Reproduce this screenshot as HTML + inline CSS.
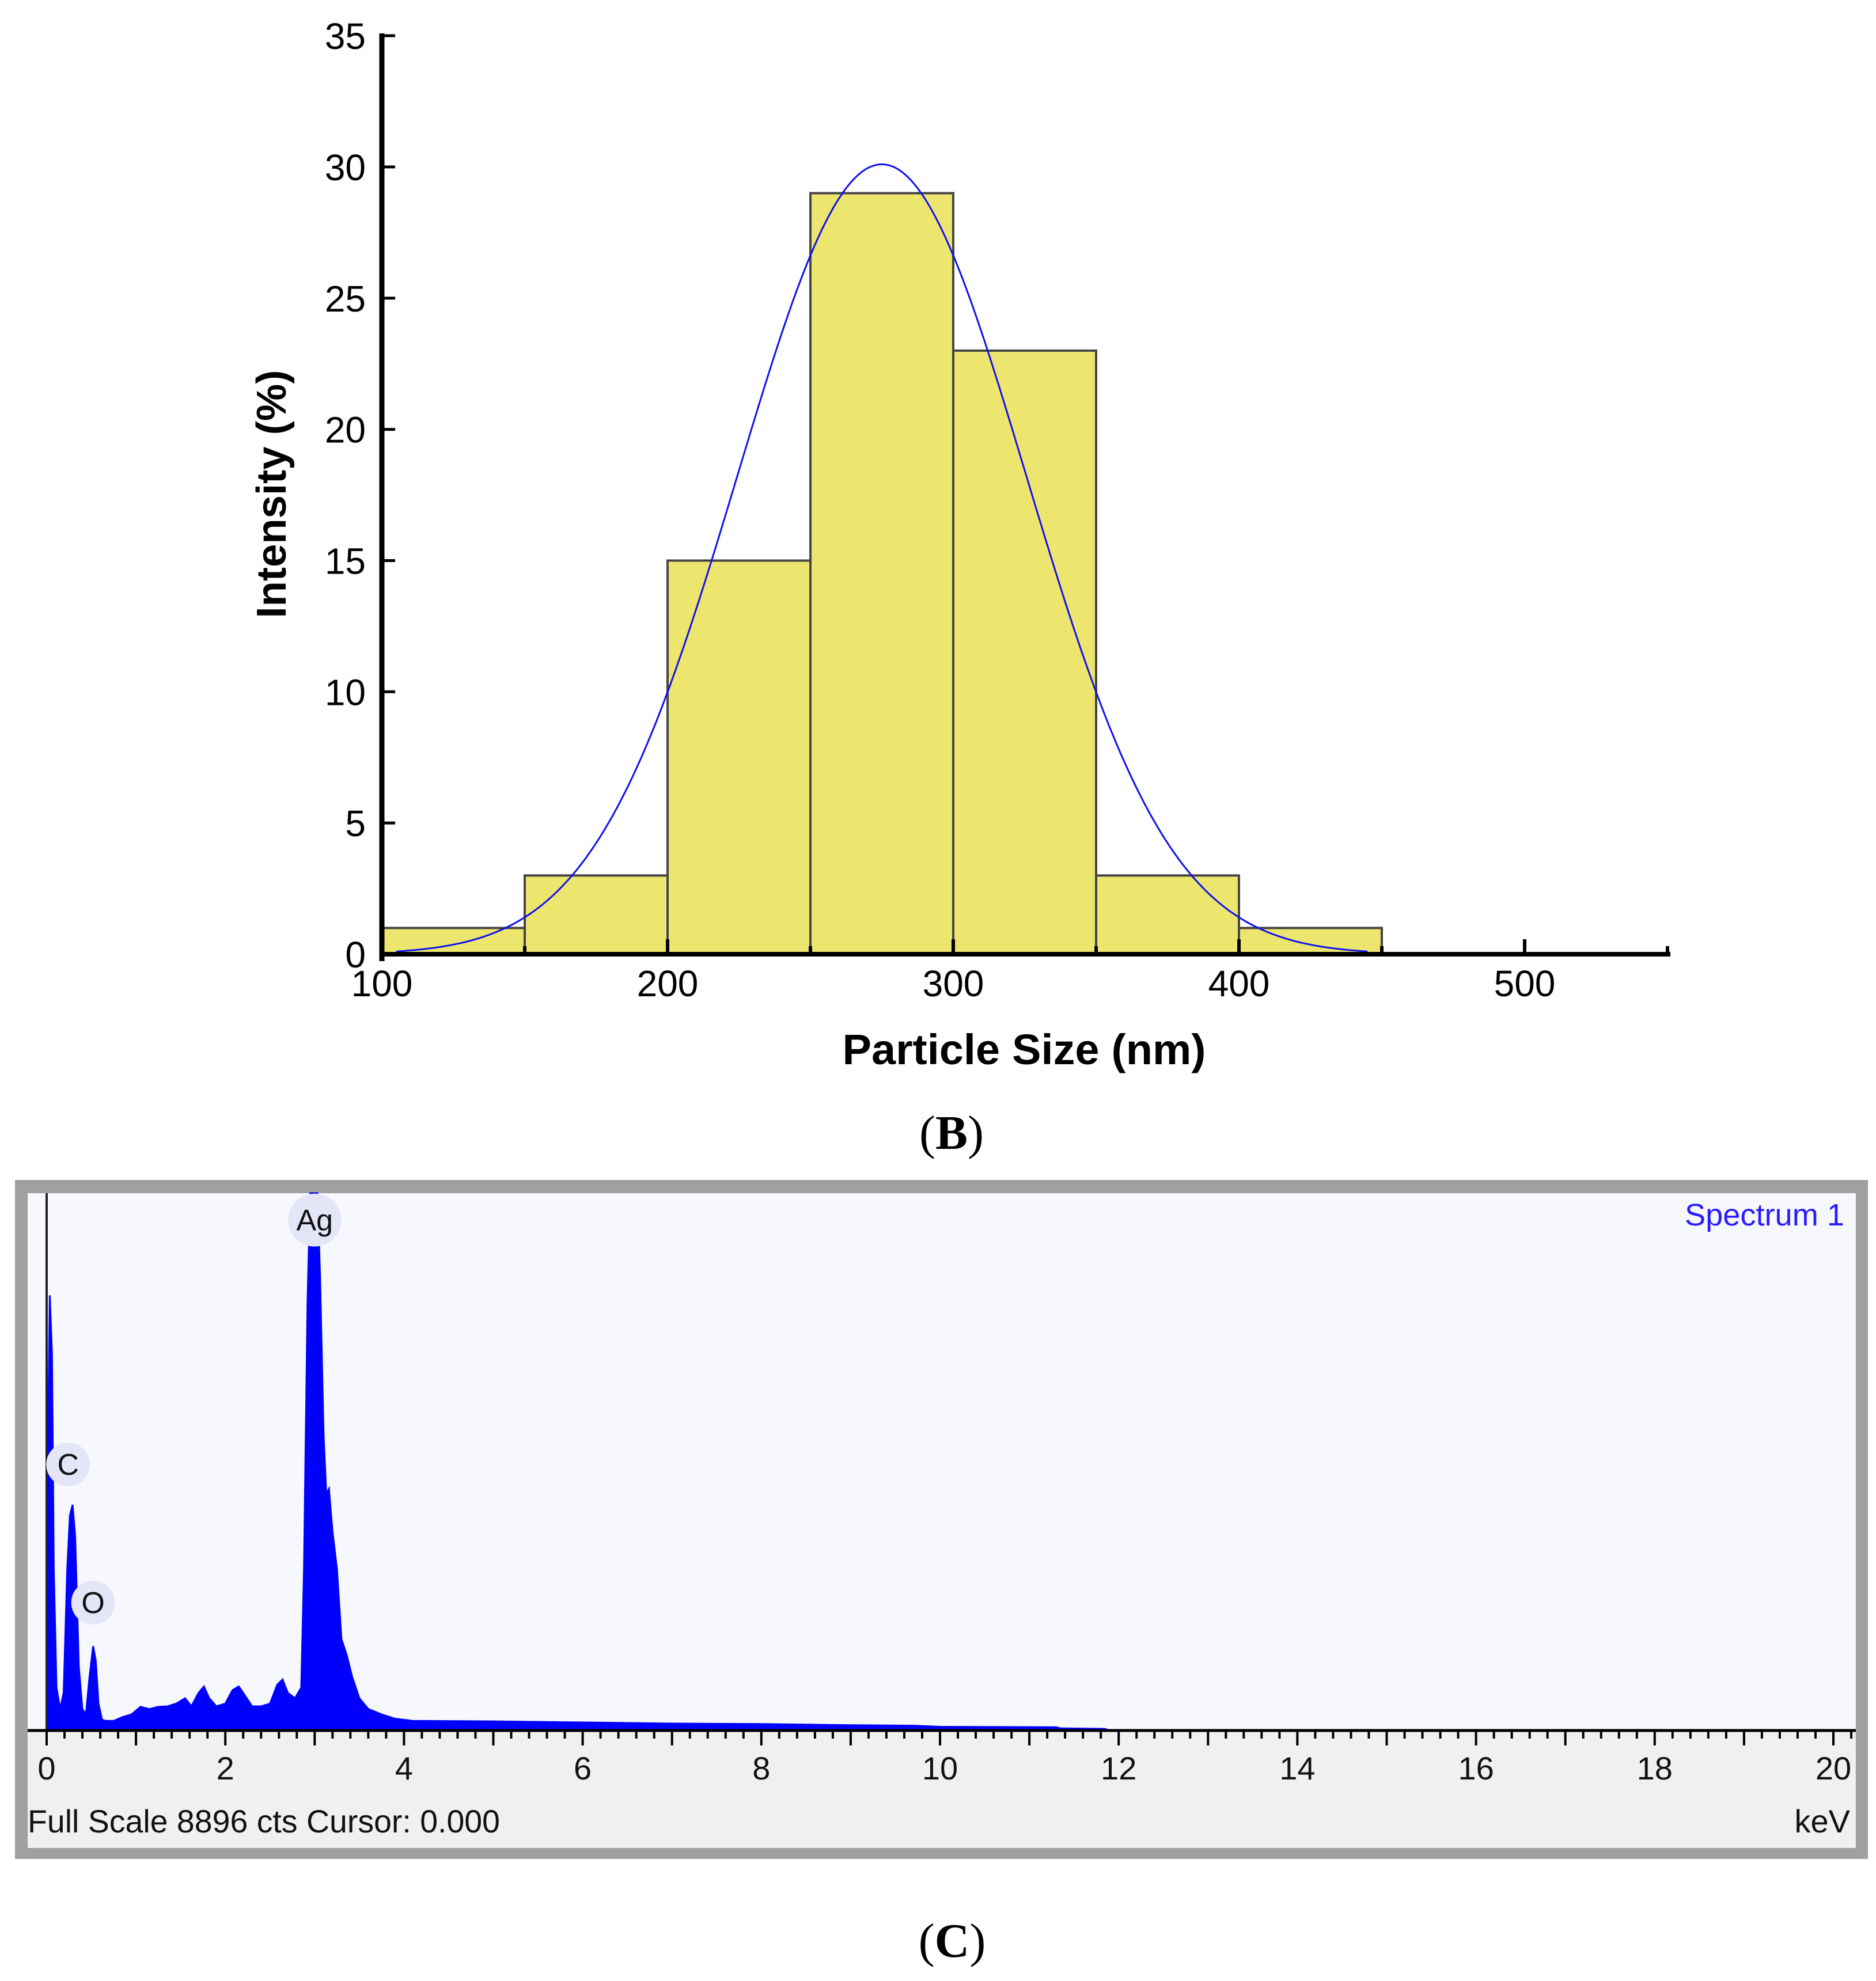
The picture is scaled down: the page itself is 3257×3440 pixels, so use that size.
<!DOCTYPE html>
<html><head><meta charset="utf-8">
<style>
html,body{margin:0;padding:0;background:#fff;}
svg{display:block;}
text{font-family:"Liberation Sans",sans-serif;}
</style></head>
<body>
<svg id="fig" width="3257" height="3440" viewBox="0 0 3257 3440" xmlns="http://www.w3.org/2000/svg">
  <rect x="0" y="0" width="3257" height="3440" fill="#ffffff"/>
  <g id="histB"></g>
  <text x="0" y="0" transform="translate(496,858) rotate(-90)" text-anchor="middle" font-size="72" font-weight="bold" textLength="431" lengthAdjust="spacingAndGlyphs">Intensity (%)</text>
  <text x="1778" y="1848" text-anchor="middle" font-size="74" font-weight="bold" textLength="631" lengthAdjust="spacingAndGlyphs">Particle Size (nm)</text>
  <text x="1652" y="1995" text-anchor="middle" font-size="84" style="font-family:'Liberation Serif',serif">(<tspan font-weight="bold">B</tspan>)</text>

  <g>
    <rect x="26" y="2049" width="3217" height="1179" fill="#a0a0a0"/>
    <rect x="48" y="2072" width="3174" height="933" fill="#f7f8fe"/>
    <rect x="48" y="3005" width="3174" height="204" fill="#f0f0f0"/>
    <g id="edsC"></g>
    <text x="3202" y="2128" text-anchor="end" font-size="54" fill="#2a1cff" textLength="277" lengthAdjust="spacingAndGlyphs">Spectrum 1</text>
    <text x="48" y="3182" font-size="56" fill="#111" textLength="820" lengthAdjust="spacingAndGlyphs">Full Scale 8896 cts Cursor: 0.000</text>
    <text x="3212" y="3182" text-anchor="end" font-size="56" fill="#111">keV</text>
  </g>
  <text x="1653" y="3398" text-anchor="middle" font-size="84" style="font-family:'Liberation Serif',serif">(<tspan font-weight="bold">C</tspan>)</text>
</svg>
<script>
// ---- Panel B data ----
const binStarts = [100,150,200,250,300,350,400];
const binWidth = 50;
const binValues = [1,3,15,29,23,3,1];
const yTicks = [0,5,10,15,20,25,30,35];
const xTicks = [100,200,300,400,500];
const fitMean = [275];
const fitSigma = [50.5];
const fitPeak = [30.1];

// ---- Panel C data ----
const edsEnergy = [0,0.01,0.02,0.035,0.06,0.08,0.11,0.15,0.19,0.23,0.26,0.29,0.32,0.36,0.4,0.44,0.48,0.52,0.55,0.58,0.62,0.66,0.75,0.85,0.95,1.05,1.15,1.25,1.35,1.45,1.55,1.62,1.7,1.76,1.82,1.9,2.0,2.08,2.15,2.22,2.3,2.4,2.5,2.58,2.64,2.7,2.78,2.85,2.88,2.92,2.95,3.03,3.06,3.1,3.13,3.16,3.2,3.25,3.3,3.36,3.42,3.5,3.6,3.75,3.9,4.1,5,6,7,8,9,9.7,10,11.3,11.35,11.85,11.9];
const edsFrac =   [0,0.3,0.6,0.81,0.7,0.3,0.08,0.04,0.07,0.3,0.4,0.42,0.36,0.12,0.04,0.03,0.1,0.157,0.13,0.05,0.02,0.018,0.018,0.025,0.03,0.044,0.04,0.044,0.045,0.05,0.06,0.045,0.07,0.082,0.06,0.045,0.05,0.075,0.082,0.065,0.045,0.045,0.05,0.085,0.095,0.07,0.06,0.08,0.3,0.8,1.0,1.0,0.85,0.55,0.44,0.45,0.37,0.3,0.17,0.14,0.1,0.06,0.04,0.03,0.022,0.018,0.017,0.015,0.013,0.012,0.01,0.009,0.007,0.006,0.004,0.003,0];
const edsTicks = [0,2,4,6,8,10,12,14,16,18,20];
const peakLabels = ["C","O","Ag"];
const peakLabelEnergy = [0.24,0.52,3.0];
const peakLabelFrac = [0.495,0.238,0.95];

const NS = "http://www.w3.org/2000/svg";
function mk(tag, attrs, parent){
  const e = document.createElementNS(NS, tag);
  for (const k in attrs) e.setAttribute(k, attrs[k]);
  parent.appendChild(e);
  return e;
}

// Panel B axes
const bx0 = 663, bxUnit = 4.96, by0 = 1657, byUnit = 45.57;
const xB = v => bx0 + (v - 100) * bxUnit;
const yB = v => by0 - v * byUnit;
const gB = document.getElementById('histB');

binStarts.forEach((s, i) => {
  const r = mk('rect', {x: xB(s), y: yB(binValues[i]), width: binWidth*bxUnit, height: by0 - yB(binValues[i]), fill: '#ede66e', stroke: '#454545', 'stroke-width': 4}, gB);
  
  
});

let d = '';
for (let v = 105; v <= 445; v += 1) {
  const val = fitPeak[0] * Math.exp(-Math.pow(v - fitMean[0], 2) / (2 * fitSigma[0] * fitSigma[0]));
  d += (v === 105 ? 'M' : 'L') + xB(v).toFixed(1) + ' ' + yB(val).toFixed(1) + ' ';
}
const curve = mk('path', {d: d, fill: 'none', stroke: '#1010ee', 'stroke-width': 3}, gB);



const yAx = mk('line', {x1: bx0, y1: yB(35) - 4, x2: bx0, y2: by0 + 12, stroke: '#000', 'stroke-width': 9}, gB);


const xAx = mk('line', {x1: bx0 - 4, y1: by0, x2: xB(551), y2: by0, stroke: '#000', 'stroke-width': 8}, gB);



yTicks.forEach(t => {
  const tk = mk('line', {x1: bx0, y1: yB(t), x2: bx0 + 23, y2: yB(t), stroke: '#000', 'stroke-width': 5}, gB);
  
  
  const lb = mk('text', {x: 635, y: yB(t) + 23, 'text-anchor': 'end', 'font-size': 64}, gB);
  lb.textContent = String(t);
  
  
});
for (let v = 150; v <= 550; v += 50) {
  const major = (v % 100 === 0);
  const tk = mk('line', {x1: xB(v), y1: by0, x2: xB(v), y2: by0 - (major ? 26 : 14), stroke: '#000', 'stroke-width': 6}, gB);
  
  
}
xTicks.forEach(t => {
  const lb = mk('text', {x: xB(t), y: 1730, 'text-anchor': 'middle', 'font-size': 64}, gB);
  lb.textContent = String(t);
  
  
});

// Panel C axes
const cx0 = 81, cxUnit = 155.1, cy0 = 3005, cyFull = 933;
const xC = e => cx0 + e * cxUnit;
const yC = f => cy0 - f * cyFull;
const gC = document.getElementById('edsC');

let sp = 'M' + xC(edsEnergy[0]).toFixed(1) + ' ' + cy0 + ' ';
edsEnergy.forEach((e, i) => { sp += 'L' + xC(e).toFixed(1) + ' ' + yC(edsFrac[i]).toFixed(1) + ' '; });
sp += 'L' + xC(edsEnergy[edsEnergy.length - 1]).toFixed(1) + ' ' + cy0 + ' Z';
const spec = mk('path', {d: sp, fill: '#0000ff', stroke: '#0000ff', 'stroke-width': 3}, gC);



const cursor = mk('line', {x1: xC(0), y1: 2072, x2: xC(0), y2: cy0, stroke: '#222', 'stroke-width': 4}, gC);



peakLabels.forEach((p, i) => {
  const cx = xC(peakLabelEnergy[i]);
  const cy = yC(peakLabelFrac[i]);
  const c = mk('circle', {cx: cx, cy: cy, r: p === 'Ag' ? 46 : 38, fill: '#e4e6f8'}, gC);
  
  
  const t = mk('text', {x: cx, y: cy + 18, 'text-anchor': 'middle', 'font-size': 52, fill: '#111'}, gC);
  t.textContent = p;
  
  
});

const cAx = mk('line', {x1: 48, y1: cy0, x2: 3222, y2: cy0, stroke: '#000', 'stroke-width': 5}, gC);


for (let k = -1; k <= 101; k++) {
  const e = k * 0.2;
  const x = xC(e);
  if (x < 50 || x > 3220) continue;
  const major = (k % 5 === 0);
  const tk = mk('line', {x1: x, y1: cy0, x2: x, y2: cy0 + (major ? 26 : 14), stroke: '#000', 'stroke-width': 4}, gC);
  
  
}
edsTicks.forEach(t => {
  const lb = mk('text', {x: xC(t), y: 3090, 'text-anchor': 'middle', 'font-size': 56, fill: '#111'}, gC);
  lb.textContent = String(t);
  
  
});
</script>
</body></html>
